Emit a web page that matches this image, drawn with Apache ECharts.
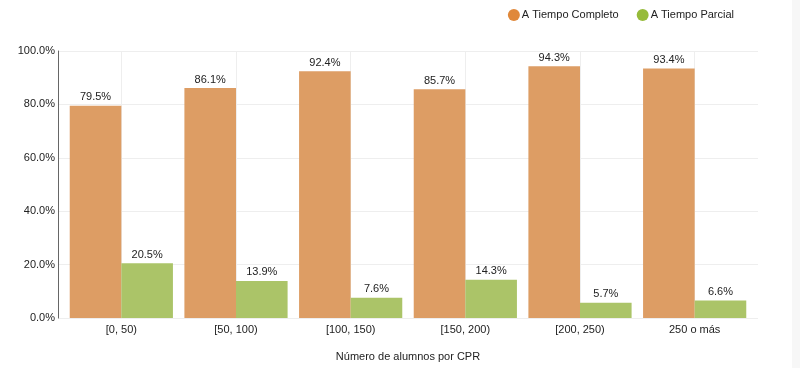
<!DOCTYPE html>
<html><head><meta charset="utf-8">
<script src="https://cdn.jsdelivr.net/npm/echarts@6/dist/echarts.min.js"></script>
<style>html,body{margin:0;padding:0;background:#fff;}#c{width:800px;height:368px;}#sb{position:absolute;left:792px;top:0;width:8px;height:368px;background:#f7f7f7;}</style>
</head><body><div id="c"></div><div id="sb"></div>
<script>
const categories = ['[0, 50)', '[50, 100)', '[100, 150)', '[150, 200)', '[200, 250)', '250 o más'];
const completo = [79.5, 86.1, 92.4, 85.7, 94.3, 93.4];
const parcial = [20.5, 13.9, 7.6, 14.3, 5.7, 6.6];
const yTicks = [0, 20, 40, 60, 80, 100];
const FONT = 'Liberation Sans, Arial, sans-serif';
const chart = echarts.init(document.getElementById('c'));
const yMin = yTicks[0], yMax = yTicks[yTicks.length - 1];
chart.setOption({
  animation: false,
  textStyle: {fontFamily: FONT},
  legend: {
    right: 61, top: 4, itemWidth: 12, itemHeight: 12, itemGap: 18, icon: 'circle',
    textStyle: {fontSize: 11, color: '#222', fontFamily: FONT, padding: [0, 0, 0, -3]},
    data: [
      {name: 'A Tiempo Completo', itemStyle: {color: '#e0883a'}},
      {name: 'A Tiempo Parcial', itemStyle: {color: '#96bb3a'}}
    ]
  },
  grid: [
    {left: 58, right: 42, top: 51, bottom: 50, outerBoundsMode: 'none'},
    {left: 64, right: 48, top: 51, bottom: 50, outerBoundsMode: 'none'}
  ],
  xAxis: [
    {gridIndex: 0, type: 'category', data: categories, show: false},
    {
      gridIndex: 1, type: 'category', data: categories,
      name: 'Número de alumnos por CPR', nameLocation: 'middle', nameGap: 33,
      nameTextStyle: {fontSize: 11, color: '#222', fontFamily: FONT},
      axisLine: {show: false},
      axisTick: {show: false, alignWithLabel: true},
      axisLabel: {fontSize: 11, color: '#222', margin: 6},
      splitLine: {show: true, alignWithLabel: true, lineStyle: {color: '#eeeeee'}}
    }
  ],
  yAxis: [
    {
      gridIndex: 0, type: 'value', min: yMin, max: yMax, interval: 20,
      axisLine: {show: true, lineStyle: {color: '#666'}},
      axisTick: {show: false},
      axisLabel: {fontSize: 11, color: '#222', margin: 3, formatter: v => v.toFixed(1) + '%'},
      splitLine: {show: true, lineStyle: {color: '#eeeeee'}}
    },
    {gridIndex: 1, type: 'value', min: yMin, max: yMax, interval: 20, show: false, splitLine: {show: false}}
  ],
  series: [
    {name: 'A Tiempo Completo', type: 'bar', xAxisIndex: 1, yAxisIndex: 1, data: completo, barGap: '0%', barCategoryGap: '10%',
     itemStyle: {color: '#dd9d64'},
     label: {show: true, position: 'top', distance: 3, fontSize: 11, color: '#222', formatter: p => p.value.toFixed(1) + '%'}},
    {name: 'A Tiempo Parcial', type: 'bar', xAxisIndex: 1, yAxisIndex: 1, data: parcial, barGap: '0%', barCategoryGap: '10%',
     itemStyle: {color: '#abc468'},
     label: {show: true, position: 'top', distance: 3, fontSize: 11, color: '#222', formatter: p => p.value.toFixed(1) + '%'}}
  ]
});
</script></body></html>
